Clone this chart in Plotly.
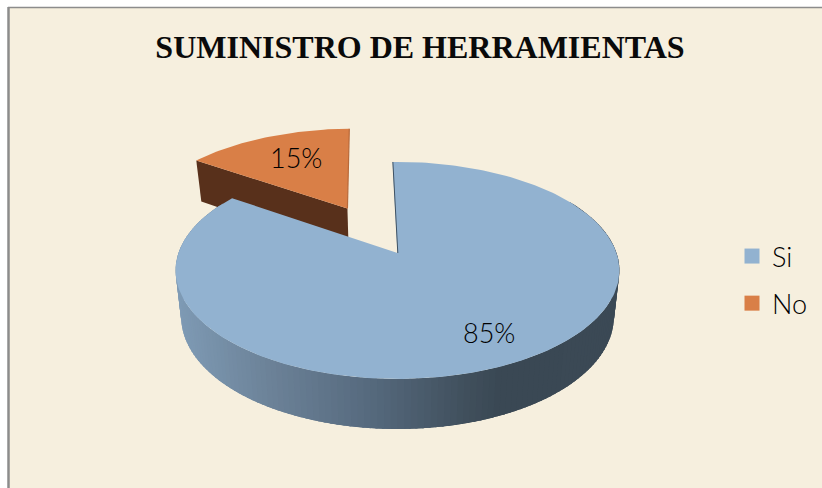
"""3D-looking exploded pie: SUMINISTRO DE HERRAMIENTAS."""

import numpy as np
import plotly.graph_objects as go

TITLE = "SUMINISTRO DE HERRAMIENTAS"
CATEGORIES = ["Si", "No"]
VALUES = [85, 15]

BG = "#F6EFDE"
FRAME = "#8C8C8C"
TOP_COLORS = {"Si": "#92B2D0", "No": "#D97F47"}
SIDE_NO = "#58301B"
EDGE_SI = "#3F5263"
EDGE_NO = "#B8693A"
LABEL_FONT = "Lato Light, Lato"

# Perspective of the pie plane, in page pixels.
TIP_X, TIP_Y = 397.5, 253.0
SCALE_X, SCALE_Y, PERSPECTIVE = 219.0, 105.7, 0.161
EXPLODE = 0.514
ROTATION = -1.5

# Colour of the blue side wall along the page x axis.
WALL_X = [176, 270, 370, 470, 503, 621]
WALL_R = [127, 108, 86, 64, 58, 60]
WALL_G = [155, 130, 106, 79, 72, 74]
WALL_B = [181, 152, 126, 92, 84, 86]


def project(u, v):
    w = 1 + PERSPECTIVE * v
    return TIP_X + SCALE_X * u / w, TIP_Y - SCALE_Y * v / w


def rim(start_deg, end_deg, n=120, offset=(0.0, 0.0)):
    """Rim points; angles run clockwise from the top of the pie."""
    t = np.radians(np.linspace(start_deg, end_deg, n) + ROTATION)
    return np.sin(t) + offset[0], np.cos(t) + offset[1]


def lower(u, v):
    """Same plane points moved down to the bottom face of the pie."""
    x, y = project(u, v)
    return TIP_X + 0.5 + (x - TIP_X - 0.5) * 0.975, y + 45.5 - 4.5 * v


def poly(x, y, color, **kw):
    return go.Scatter(
        x=list(x), y=list(y), mode="lines", fill="toself", fillcolor=color,
        line=dict(color=color, width=kw.pop("width", 0)),
        hoverinfo="skip", showlegend=False, **kw,
    )


total = sum(VALUES)
si_sweep = 360.0 * VALUES[0] / total
no_sweep = 360.0 * VALUES[1] / total

fig = go.Figure()

# "No" slice is pulled out along its own middle direction.
mid = np.radians(si_sweep + no_sweep / 2 + ROTATION)
off = (EXPLODE * np.sin(mid), EXPLODE * np.cos(mid))

u, v = rim(si_sweep, 360, 40, off)
x_top, y_top = project(np.r_[off[0], u], np.r_[off[1], v])

# Brown wall of the cut edge on the left of the slice.
wu = np.array([off[0], u[0]])
wv = np.array([off[1], v[0]])
tx, ty = project(wu, wv)
bx, by = lower(wu, wv)
fig.add_trace(poly(np.r_[tx, bx[::-1]], np.r_[ty, by[::-1]], SIDE_NO))
fig.add_trace(poly(x_top, y_top, TOP_COLORS["No"]))
ex, ey = project(np.array([off[0], u[-1]]), np.array([off[1], v[-1]]))
fig.add_trace(go.Scatter(x=ex, y=ey, mode="lines", line=dict(color=EDGE_NO, width=1.2),
                         hoverinfo="skip", showlegend=False))

# Blue side wall as thin strips so the colour can follow x; each strip runs
# a little under the next one to keep the seams from showing.
edges = np.linspace(60, 300, 161)
for a, b in zip(edges[:-1], edges[1:]):
    su, sv = rim(a, b + 2.0, 4)
    tx, ty = project(su, sv)
    bx, by = lower(su, sv)
    mx = float(np.mean(project(*rim(a, b, 3))[0]))
    color = "rgb(%d,%d,%d)" % (
        np.interp(mx, WALL_X, WALL_R),
        np.interp(mx, WALL_X, WALL_G),
        np.interp(mx, WALL_X, WALL_B),
    )
    fig.add_trace(poly(np.r_[tx, bx[::-1]], np.r_[ty, by[::-1]], color))

# Blue top face.
u, v = rim(0, si_sweep, 240)
x_top, y_top = project(np.r_[0.0, u], np.r_[0.0, v])
fig.add_trace(poly(x_top, y_top, TOP_COLORS["Si"]))
ex, ey = project(np.array([0.0, u[0]]), np.array([0.0, v[0]]))
fig.add_trace(go.Scatter(x=ex + 0.3, y=ey, mode="lines", line=dict(color=EDGE_SI, width=1),
                         hoverinfo="skip", showlegend=False))

# Legend entries.
for name in CATEGORIES:
    fig.add_trace(go.Scatter(
        x=[None], y=[None], mode="markers", name=name, legendgroup=name,
        marker=dict(symbol="square", size=15, color=TOP_COLORS[name]),
    ))

# Value labels.
for value, lx, ly in zip(VALUES, [489, 296], [332, 157]):
    fig.add_annotation(x=lx, y=ly, text=f"{value}%", showarrow=False,
                       font=dict(family=LABEL_FONT, size=27, color="#000000"))

fig.update_layout(
    width=822, height=488,
    margin=dict(l=0, r=0, t=0, b=0),
    paper_bgcolor="white",
    plot_bgcolor="white",
    title=dict(
        text=f"<b>{TITLE}</b>", x=420 / 822, xanchor="center", y=1 - 47 / 488, yanchor="middle",
        font=dict(family="Liberation Serif", size=32, color="#0A0A0A"),
    ),
    legend=dict(
        x=732 / 822, xanchor="left", y=1 - 232 / 488, yanchor="top",
        bgcolor="rgba(0,0,0,0)", itemsizing="trace", tracegroupgap=9,
        font=dict(family=LABEL_FONT, size=27, color="#000000"),
    ),
    xaxis=dict(range=[0, 822], visible=False, fixedrange=True),
    yaxis=dict(range=[488, 0], visible=False, fixedrange=True),
    shapes=[
        dict(type="rect", x0=9, x1=822, y0=8, y1=488, fillcolor=BG, line_width=0, layer="below"),
        dict(type="line", x0=8.5, x1=8.5, y0=7, y1=488, line=dict(color=FRAME, width=2.5), layer="below"),
        dict(type="line", x0=8, x1=822, y0=7.5, y1=7.5, line=dict(color=FRAME, width=1.3), layer="below"),
    ],
)

# The page's default body margin would push the figure off its pixel positions.
fig.write_html(
    "out.html",
    config=dict(displayModeBar=False),
    post_script="document.body.style.margin='0';document.documentElement.style.overflow='hidden';",
)
